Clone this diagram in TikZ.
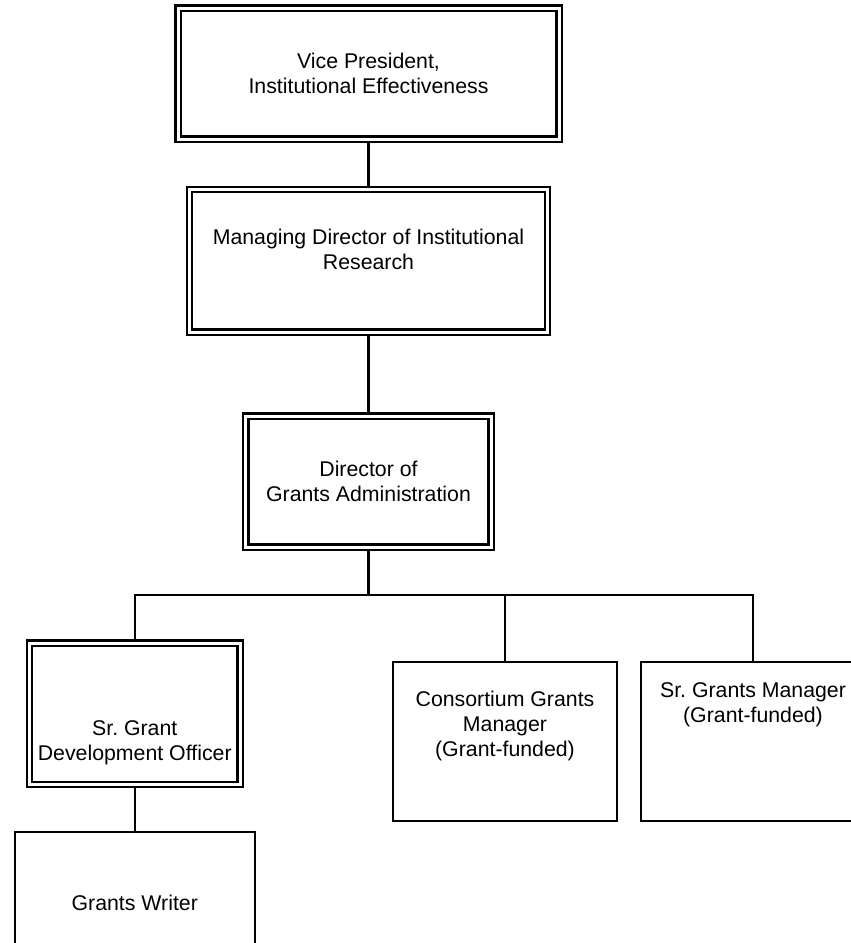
\documentclass[tikz,border=0pt]{standalone}
\usepackage{fontspec}
\setmainfont{Liberation Sans}
\usetikzlibrary{positioning,backgrounds}
\frenchspacing

\begin{document}
\begin{tikzpicture}[
  x=1pt, y=-1pt,
  box/.style={draw, line width=2.2pt, fill=white, inner sep=0pt, outer sep=0pt},
  dbox/.style={box, line width=2.4pt, double, double distance=3pt},
  lbl/.style={align=center, font=\fontsize{21.3}{25}\selectfont},
  link/.style={line width=2.2pt}
]
\useasboundingbox (0,0) rectangle (851,943);
\clip (0,0) rectangle (851,943);

\node[dbox, minimum width=381pt, minimum height=131pt] (vp) at (368.5,73.5) {};
\node[dbox, minimum width=358pt, minimum height=142.5pt, below=50.5pt of vp] (md) {};
\node[dbox, minimum width=245.5pt, minimum height=131pt, below=84pt of md] (dir) {};
\node[dbox, minimum width=210.5pt, minimum height=141.5pt] (sgdo) at (134.75,713.75) {};
\node[box, minimum width=224pt, minimum height=159pt] (cons) at (505,741.5) {};
\node[box, minimum width=224pt, minimum height=159pt, right=24pt of cons] (sgm) {};
\node[box, minimum width=240pt, minimum height=142pt, below=47.5pt of sgdo] (gw) {};

\node[lbl] (vptxt) at (vp.center) {Vice President,\\Institutional Effectiveness};
\node[lbl] (mdtxt) at ([yshift=11pt]md.center) {Managing Director of Institutional\\Research};
\node[lbl] (dirtxt) at (dir.center) {Director of\\Grants Administration};
\node[lbl] (sgdotxt) at ([yshift=-29pt]sgdo.center) {Sr. Grant\\Development Officer};
\node[lbl] (constxt) at ([yshift=16pt]cons.center) {Consortium Grants\\Manager\\(Grant-funded)};
\node[lbl] (sgmtxt) at ([yshift=37pt]sgm.center) {Sr. Grants Manager\\(Grant-funded)};
\node[lbl] (gwtxt) at (gw.center) {Grants Writer};

\coordinate (fork) at (dir.south |- 0,595);

\begin{pgfonlayer}{background}
  \draw[link] (vp) -- (md);
  \draw[link] (md) -- (dir);
  \draw[link] (dir) -- (fork);
  \draw[link] (sgdo.north) |- (fork) -| (sgm.north);
  \draw[link] (cons.north) -- (cons.north |- fork);
  \draw[link] (sgdo) -- (gw);
\end{pgfonlayer}
\end{tikzpicture}
\end{document}
